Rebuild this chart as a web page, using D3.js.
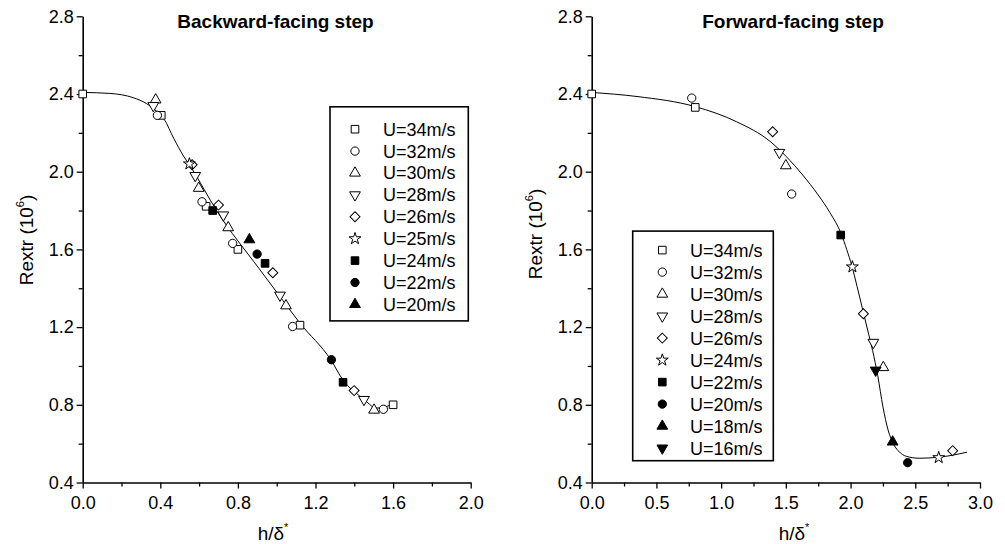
<!DOCTYPE html>
<html><head><meta charset="utf-8">
<script src="https://cdn.jsdelivr.net/npm/d3@7"></script>
<style>body{margin:0;background:#fff}text{font-family:"Liberation Sans",Arial,sans-serif}</style>
</head><body>
<script>
// ---------- data ----------
const yTicks = [0.4, 0.8, 1.2, 1.6, 2.0, 2.4, 2.8];
const leftXTicks = [0.0, 0.4, 0.8, 1.2, 1.6, 2.0];
const rightXTicks = [0.0, 0.5, 1.0, 1.5, 2.0, 2.5, 3.0];

const leftSeries = ["U=34m/s","U=32m/s","U=30m/s","U=28m/s","U=26m/s","U=25m/s","U=24m/s","U=22m/s","U=20m/s"];
const leftSymbols = ["square","circle","triUp","triDown","diamond","star","squareF","circleF","triUpF"];
const leftU34 = [[0,2.40],[0.405,2.29],[0.636,1.822],[0.80,1.60],[1.12,1.21],[1.60,0.80]];
const leftU32 = [[0.385,2.29],[0.615,1.845],[0.773,1.631],[1.082,1.203],[1.55,0.777]];
const leftU30 = [[0.376,2.37],[0.598,1.915],[0.75,1.712],[1.048,1.31],[1.502,0.773]];
const leftU28 = [[0.364,2.34],[0.58,1.98],[0.725,1.777],[1.017,1.364],[1.45,0.827]];
const leftU26 = [[0.564,2.036],[0.70,1.828],[0.98,1.48],[1.399,0.873]];
const leftU25 = [[0.55,2.04]];
const leftU24 = [[0.67,1.80],[0.94,1.528],[1.342,0.916]];
const leftU22 = [[0.899,1.576],[1.282,1.032]];
const leftU20 = [[0.859,1.65]];
const leftFit = [[0,2.408],[0.14,2.403],[0.26,2.381],[0.33,2.35],[0.38,2.312],[0.42,2.27],[0.47,2.17],[0.52,2.08],[0.56,2.02],[0.69,1.80],[0.91,1.50],[1.0,1.38],[1.12,1.22],[1.28,1.03],[1.34,0.93],[1.44,0.835],[1.47,0.81],[1.51,0.783],[1.55,0.787],[1.6,0.805]];

const rightSeries = ["U=34m/s","U=32m/s","U=30m/s","U=28m/s","U=26m/s","U=24m/s","U=22m/s","U=20m/s","U=18m/s","U=16m/s"];
const rightSymbols = ["square","circle","triUp","triDown","diamond","star","squareF","circleF","triUpF","triDownF"];
const rightU34 = [[0,2.40],[0.80,2.331]];
const rightU32 = [[0.773,2.379],[1.545,1.885]];
const rightU30 = [[1.50,2.031],[2.253,0.992]];
const rightU28 = [[1.45,2.099],[2.176,1.121]];
const rightU26 = [[1.398,2.206],[2.099,1.269],[2.789,0.564]];
const rightU24 = [[2.014,1.51],[2.681,0.528]];
const rightU22 = [[1.924,1.674]];
const rightU20 = [[2.441,0.502]];
const rightU18 = [[2.325,0.609]];
const rightU16 = [[2.194,0.978]];
const rightFit = [[0,2.408],[0.35,2.387],[0.8,2.335],[1.12,2.257],[1.38,2.155],[1.5,2.08],[1.63,1.983],[1.75,1.88],[1.84,1.79],[1.93,1.676],[1.97,1.60],[2.01,1.515],[2.05,1.41],[2.09,1.30],[2.13,1.19],[2.17,1.08],[2.21,0.95],[2.25,0.79],[2.29,0.67],[2.33,0.60],[2.37,0.562],[2.43,0.535],[2.53,0.525],[2.68,0.53],[2.9,0.556]];

// ---------- drawing ----------
const svg = d3.select("body").append("svg").attr("width",1005).attr("height",544);
const Y0 = 482.5, Y1 = 16.3;

function symbolPath(kind){
  const base = kind.replace("F","");
  let type = d3.symbolSquare, size = 58;
  if(base==="circle"){type=d3.symbolCircle; size=54;}
  else if(base==="triUp"||base==="triDown"){type=d3.symbolTriangle; size=50;}
  else if(base==="diamond"){type=d3.symbolSquare; size=50;}
  else if(base==="star"){type=d3.symbolStar; size=44;}
  return d3.symbol().type(type).size(size)();
}
function symbolRot(kind){
  const base = kind.replace("F","");
  if(base==="triDown") return 180;
  if(base==="diamond") return 45;
  return 0;
}
function drawSymbol(g, kind, x, y){
  const filled = kind.endsWith("F");
  g.append("path").attr("d", symbolPath(kind))
    .attr("transform", `translate(${x},${y}) rotate(${symbolRot(kind)})`)
    .attr("fill", filled ? "#000" : "#fff")
    .attr("stroke", "#000").attr("stroke-width", 1);
}

function panel(cfg){
  const x = d3.scaleLinear().domain(cfg.xDomain).range([cfg.x0, cfg.x1]);
  const y = d3.scaleLinear().domain([0.4,2.8]).range([Y0,Y1]);
  const g = svg.append("g");
  const fmt = d3.format(".1f");
  const xm = [];
  for(let i=0;i<cfg.xTicks.length-1;i++) xm.push((cfg.xTicks[i]+cfg.xTicks[i+1])/2);
  const ym = [];
  for(let i=0;i<yTicks.length-1;i++) ym.push((yTicks[i]+yTicks[i+1])/2);

  // minor ticks
  g.append("g").attr("transform",`translate(0,${Y0})`)
    .call(d3.axisBottom(x).tickValues(xm).tickSize(4).tickFormat(""))
    .call(a=>a.select(".domain").remove());
  g.append("g").attr("transform",`translate(${cfg.x0},0)`)
    .call(d3.axisLeft(y).tickValues(ym).tickSize(4).tickFormat(""))
    .call(a=>a.select(".domain").remove());
  // major
  const xa = g.append("g").attr("transform",`translate(0,${Y0})`)
    .call(d3.axisBottom(x).tickValues(cfg.xTicks).tickSize(6).tickSizeOuter(0).tickPadding(8).tickFormat(fmt));
  const ya = g.append("g").attr("transform",`translate(${cfg.x0},0)`)
    .call(d3.axisLeft(y).tickValues(yTicks).tickSize(6).tickSizeOuter(0).tickPadding(3).tickFormat(fmt));
  [xa,ya].forEach(a=>{
    a.selectAll("text").attr("font-size",18).attr("font-family","Liberation Sans, Arial, sans-serif").attr("fill","#000");
    a.select(".domain").attr("stroke","#000").attr("stroke-width",1.6);
  });
  g.selectAll("g.tick line").attr("stroke","#000").attr("stroke-width",1.3);

  // fit line
  const line = d3.line().x(d=>x(d[0])).y(d=>y(d[1])).curve(d3.curveMonotoneX);
  g.append("path").datum(cfg.fit).attr("d",line).attr("fill","none").attr("stroke","#000").attr("stroke-width",1);

  // points
  cfg.data.forEach((arr,i)=>{
    arr.forEach(p=>drawSymbol(g, cfg.symbols[i], x(p[0]), y(p[1])));
  });

  // title
  g.append("text").attr("x",cfg.titleX).attr("y",28).attr("text-anchor","middle")
    .attr("font-size",19).attr("font-weight","bold").text(cfg.title);
  // x label
  const xl = g.append("text").attr("x",cfg.xLabelX).attr("y",540).attr("text-anchor","middle").attr("font-size",19);
  xl.append("tspan").text("h/δ");
  xl.append("tspan").attr("font-size",11).attr("dy",-9).text("*");
  // y label
  const yl = g.append("text").attr("transform",`translate(${cfg.yLabelX},${cfg.yLabelY}) rotate(-90)`)
    .attr("text-anchor","middle").attr("font-size",19);
  yl.append("tspan").text("Rextr (10");
  yl.append("tspan").attr("font-size",11).attr("dy",-9).text("6");
  yl.append("tspan").attr("dy",9).text(")");

  // legend
  const L = cfg.legend;
  g.append("rect").attr("x",L.x).attr("y",L.y).attr("width",L.w).attr("height",L.h)
    .attr("fill","#fff").attr("stroke","#000").attr("stroke-width",1.6);
  cfg.series.forEach((s,i)=>{
    const cy = L.firstRow + i*L.step;
    drawSymbol(g, cfg.symbols[i], L.symX, cy);
    g.append("text").attr("x",L.textX).attr("y",cy).attr("dy","0.36em")
      .attr("font-size",18).text(s);
  });
}

panel({
  xDomain:[0,2.0], x0:82.7, x1:470.7, xTicks:leftXTicks,
  fit:leftFit, data:[leftU34,leftU32,leftU30,leftU28,leftU26,leftU25,leftU24,leftU22,leftU20],
  symbols:leftSymbols, series:leftSeries, title:"Backward-facing step", titleX:275.5,
  xLabelX:273, yLabelX:33, yLabelY:240,
  legend:{x:330,y:106.8,w:138.3,h:214.1,symX:355,textX:383,firstRow:129.2,step:21.9}
});
panel({
  xDomain:[0,3.0], x0:591.7, x1:980, xTicks:rightXTicks,
  fit:rightFit, data:[rightU34,rightU32,rightU30,rightU28,rightU26,rightU24,rightU22,rightU20,rightU18,rightU16],
  symbols:rightSymbols, series:rightSeries, title:"Forward-facing step", titleX:793,
  xLabelX:794, yLabelX:542, yLabelY:234,
  legend:{x:632.7,y:231.1,w:140.6,h:229.6,symX:662.3,textX:690,firstRow:250.1,step:22.0}
});
</script>
</body></html>
